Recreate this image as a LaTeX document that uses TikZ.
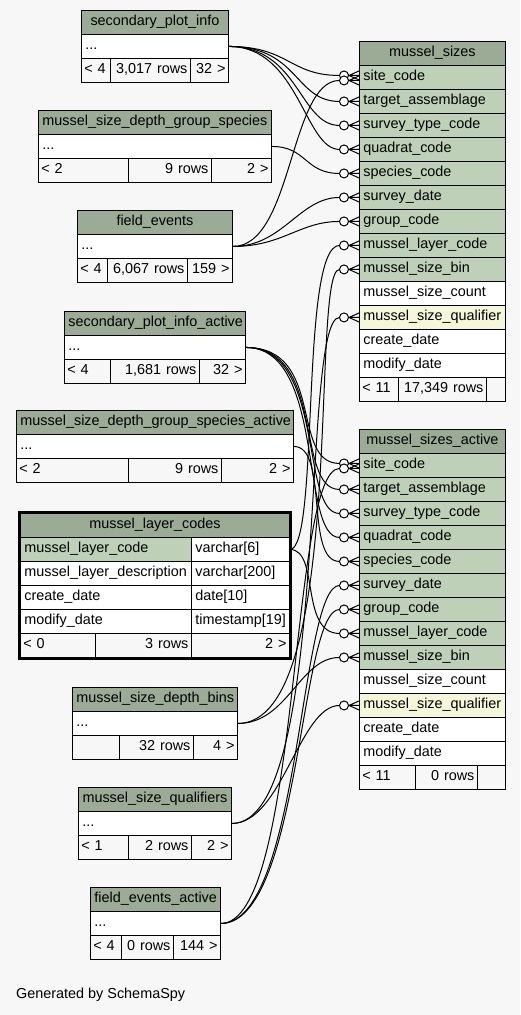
\documentclass[tikz,border=0pt]{standalone}
\usepackage{fontspec}
\setmainfont{Liberation Sans}
\usetikzlibrary{calc}

\definecolor{bggray}{HTML}{F7F7F7}
\definecolor{hdrgreen}{HTML}{9BAB96}
\definecolor{keygreen}{HTML}{BED1B8}
\definecolor{idxyellow}{HTML}{F4F7DA}

\tikzset{
  cell/.style={draw=black, line width=0.9pt, anchor=north west, inner xsep=4pt,
    inner ysep=0pt, minimum height=24pt, text height=10.5pt, text depth=3.5pt, align=left},
  headcell/.style={cell, fill=hdrgreen, align=center},
  keycell/.style={cell, fill=keygreen},
  colcell/.style={cell, fill=white},
  idxcell/.style={cell, fill=idxyellow},
  footcell/.style={cell, fill=bggray, inner xsep=3pt},
  fkline/.style={black, line width=1pt},
}

%% foreign key: parent row -> child row, ends in circle + crow's foot
\newcommand{\fk}[5]{%
  \draw[fkline] (#1.east) .. controls +(#4,0) and +(-#5,0) .. ([xshift=-19.5pt,yshift=#3pt]#2.west);
  \draw[fkline, fill=white] ([xshift=-15pt,yshift=#3pt]#2.west) circle[radius=4.5pt];
  \draw[fkline] ([xshift=-10.5pt,yshift=#3pt]#2.west) -- ([yshift=#3pt]#2.west)
    ([xshift=-10pt,yshift=#3pt]#2.west) -- ([yshift=#3pt+4.5pt]#2.west)
    ([xshift=-10pt,yshift=#3pt]#2.west) -- ([yshift=#3pt-4.5pt]#2.west);}

\begin{document}
\begin{tikzpicture}[x=1pt, y=-1pt, font=\fontsize{14.4pt}{17pt}\selectfont]
  \useasboundingbox (0,0) rectangle (520,1015);
  \fill[bggray] (0,0) rectangle (520,1015);

  %% ── Related tables (title / ... / counts) ─────────────────
  \foreach \nm/\x/\y/\xr/\sa/\sb/\ttl/\ta/\tb/\tc in {
      spi/81/10/228/110/190/secondary\_plot\_info/{< 4}/{3,017 rows}/{32 >},
      mdgs/38/110/271/128/211/mussel\_size\_depth\_group\_species/{< 2}/{9 rows}/{2 >},
      fe/77/210/232/107/187/field\_events/{< 4}/{6,067 rows}/{159 >},
      spia/64/311/245/110/199/secondary\_plot\_info\_active/{< 4}/{1,681 rows}/{32 >},
      mdgsa/16/410/293/128/221/mussel\_size\_depth\_group\_species\_active/{< 2}/{9 rows}/{2 >},
      mdb/72/687/237/119/193/mussel\_size\_depth\_bins/{}/{32 rows}/{4 >},
      msq/78/787/231/128/191/mussel\_size\_qualifiers/{< 1}/{2 rows}/{2 >},
      fea/90/887/220/121/173/field\_events\_active/{< 4}/{0 rows}/{144 >}}{
    \pgfmathsetmacro{\wt}{\xr-\x-8}
    \pgfmathsetmacro{\wa}{\sa-\x-6}
    \pgfmathsetmacro{\wb}{\sb-\sa-6}
    \pgfmathsetmacro{\wc}{\xr-\sb-6}
    \node[headcell, text width=\wt pt] (\nm) at (\x,\y) {\ttl};
    \node[colcell, text width=\wt pt] (\nm-body) at (\x,\y+24) {...};
    \node[footcell, text width=\wa pt] (\nm-fa) at (\x,\y+48) {\mbox{\ta}};
    \node[footcell, text width=\wb pt, align=right] (\nm-fb) at (\sa,\y+48) {\mbox{\tb}};
    \node[footcell, text width=\wc pt, align=right] (\nm-fc) at (\sb,\y+48) {\mbox{\tc}};
  }

  %% ── mussel_layer_codes (focus table) ─────────────────────
  \node[headcell, text width=261pt] (mlc) at (20,513) {mussel\_layer\_codes};
  \foreach \i/\c/\t/\s in {1/mussel\_layer\_code/varchar[6]/keycell,
      2/mussel\_layer\_description/varchar[200]/colcell,
      3/create\_date/date[10]/colcell,
      4/modify\_date/timestamp[19]/colcell}{
    \node[\s, text width=163pt] (mlc-\i) at (20,513+24*\i) {\c};
    \node[colcell, text width=90pt] (mlc-t\i) at (191,513+24*\i) {\t};
  }
  \node[footcell, text width=69pt] (mlc-fa) at (20,633) {< 0};
  \node[footcell, text width=90pt, align=right] (mlc-fb) at (95,633) {3 rows};
  \node[footcell, text width=92pt, align=right] (mlc-fc) at (191,633) {2 >};
  \draw[line width=3pt] ([shift={(-1,-1)}]mlc.north west) rectangle ([shift={(1,1)}]mlc-fc.south east);

  %% ── Child tables ─────────────────────────────────────────
  \foreach \tbl/\y/\ttl in {ms/41/mussel\_sizes, msa/429/mussel\_sizes\_active}{
    \node[headcell, text width=138pt] (\tbl) at (359,\y) {\ttl};
    \foreach \i/\c/\s in {1/site\_code/keycell, 2/target\_assemblage/keycell,
        3/survey\_type\_code/keycell, 4/quadrat\_code/keycell, 5/species\_code/keycell,
        6/survey\_date/keycell, 7/group\_code/keycell, 8/mussel\_layer\_code/keycell,
        9/mussel\_size\_bin/keycell, 10/mussel\_size\_count/colcell,
        11/mussel\_size\_qualifier/idxcell, 12/create\_date/colcell, 13/modify\_date/colcell}
      \node[\s, text width=138pt] (\tbl-\i) at (359,\y+24*\i) {\c};
  }
  \node[footcell, text width=33pt] (ms-fa) at (359,377) {< 11};
  \node[footcell, text width=82pt, align=right] (ms-fb) at (398,377) {17,349 rows};
  \node[footcell, text width=13pt] (ms-fc) at (486,377) {};
  \node[footcell, text width=50pt] (msa-fa) at (359,765) {< 11};
  \node[footcell, text width=56pt, align=right] (msa-fb) at (415,765) {0 rows};
  \node[footcell, text width=22pt] (msa-fc) at (477,765) {};

  %% ── Foreign keys into mussel_sizes ───────────────────────
  \fk{spi-body}{ms-1}{2}{60}{50}
  \fk{spi-body}{ms-2}{0}{70}{45}
  \fk{spi-body}{ms-3}{0}{70}{40}
  \fk{spi-body}{ms-4}{0}{70}{35}
  \fk{mdgs-body}{ms-5}{0}{35}{35}
  \fk{fe-body}{ms-1}{-3}{60}{50}
  \fk{fe-body}{ms-6}{0}{50}{40}
  \fk{fe-body}{ms-7}{0}{50}{40}
  \fk{mlc-t1}{ms-8}{0}{30}{40}
  \fk{mdb-body}{ms-9}{0}{110}{30}
  \fk{msq-body}{ms-11}{0}{100}{40}

  %% ── Foreign keys into mussel_sizes_active ────────────────
  \fk{spia-body}{msa-1}{2}{80}{50}
  \fk{spia-body}{msa-2}{0}{80}{45}
  \fk{spia-body}{msa-3}{0}{80}{40}
  \fk{spia-body}{msa-4}{0}{80}{40}
  \fk{mdgsa-body}{msa-5}{0}{35}{35}
  \fk{fea-body}{msa-1}{-3}{80}{50}
  \fk{fea-body}{msa-6}{0}{80}{40}
  \fk{fea-body}{msa-7}{0}{80}{40}
  \fk{mlc-t1}{msa-8}{0}{30}{40}
  \fk{mdb-body}{msa-9}{0}{50}{40}
  \fk{msq-body}{msa-11}{0}{50}{40}

  \node[anchor=west, inner sep=0pt] (credit) at (16,995) {Generated by SchemaSpy};
\end{tikzpicture}
\end{document}
